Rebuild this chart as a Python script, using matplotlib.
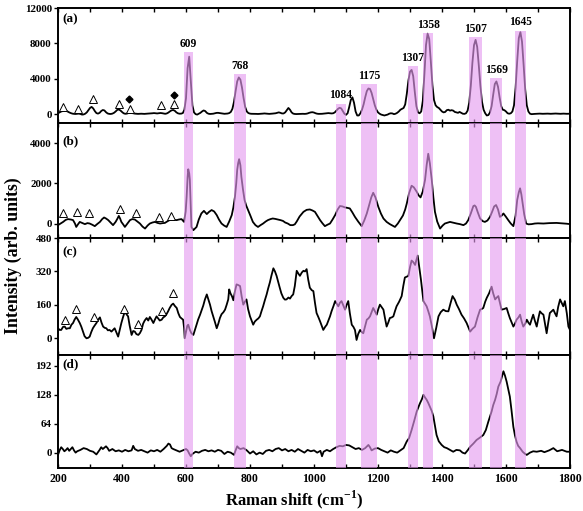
import numpy as np
import matplotlib
matplotlib.use("Agg")
import matplotlib.pyplot as plt
from matplotlib.ticker import MultipleLocator

plt.rcParams['font.family'] = ['Liberation Serif', 'DejaVu Serif']
plt.rcParams['font.weight'] = 'bold'
plt.rcParams['mathtext.fontset'] = 'custom'
plt.rcParams['mathtext.rm'] = 'Liberation Serif:bold'
plt.rcParams['mathtext.bf'] = 'Liberation Serif:bold'

# ---------------- data ----------------
# panel (a): sampled every 5 cm-1 from 200 to 1800
a_shift = np.arange(200, 1801, 5)
a_int = [
    100, 200, 300, 350, 400, 380, 300, 200, 120, 60, 30, 20, 40, 60, 20, -50, -30, 50, 200, 450,
    700, 820, 650, 350, 120, 60, 150, 350, 470, 420, 220, 80, 30, 20, 60, 150, 300, 480, 530, 420,
    250, 100, 40, 60, 120, 150, 130, 100, 60, 40, 30, 40, 50, 40, 30, 50, 60, 70, 80, 100,
    120, 100, 80, 100, 130, 110, 70, 40, 80, 180, 320, 430, 470, 380, 200, 90, 50, 60, 120, 500,
    1800, 5200, 6500, 3800, 1000, 200, 0, -50, 50, 150, 300, 420, 350, 150, 50, 20, 30, 50, 100, 140,
    150, 120, 80, 50, 40, 50, 70, 120, 250, 600, 1400, 2600, 3700, 4150, 3900, 3000, 1800, 800, 300, 120,
    60, 40, 40, 40, 30, 20, 30, 40, 60, 80, 60, 40, 30, 40, 60, 80, 100, 150, 200, 150,
    80, 80, 200, 450, 700, 500, 200, 60, 20, 10, 20, 40, 50, 40, 30, 40, 80, 150, 200, 220,
    180, 100, 50, 30, 30, 40, 60, 80, 100, 120, 100, 80, 100, 200, 400, 600, 720, 650, 350, 50,
    -80, 100, 800, 1600, 1900, 1300, 300, -150, -150, 100, 500, 1100, 1900, 2600, 2900, 2850, 2400, 1700, 1000, 500,
    200, 50, -50, -100, -150, -100, -50, 50, 100, 80, 0, 50, 150, 300, 500, 600, 700, 1100, 2300, 3800,
    4800, 5000, 4300, 2500, 900, 200, 100, 300, 1500, 4500, 7800, 9100, 8500, 6000, 3300, 1600, 1000, 800, 700, 500,
    300, 200, 250, 450, 500, 400, 450, 400, 250, 200, 150, 250, 150, 50, 30, 100, 400, 1300, 3200, 5800,
    7800, 8400, 7600, 5500, 3200, 1400, 500, 100, -150, -100, 200, 900, 2200, 3400, 3700, 3100, 1900, 900, 500, 450,
    300, 100, 50, 100, 300, 1000, 3000, 6000, 8600, 9270, 8200, 5600, 2800, 1000, 300, 50, 0, 20, 30, 40,
    50, 60, 50, 40, 50, 70, 60, 50, 40, 50, 60, 70, 60, 50, 40, 50, 60, 50, 40, 50,
    50,
]

# panel (b): (Raman shift, intensity)
b_points = [
    (200, -80), (208, 0), (216, 80), (224, 180), (231, 220), (240, 200), (247, 170), (253, 0), (257, -170), (262, -50),
    (268, 80), (275, 30), (284, -30), (292, 20), (299, 0), (307, -60), (315, -130), (323, -20), (331, 80), (338, 220),
    (344, 300), (350, 250), (357, 170), (364, 50), (372, -80), (380, 80), (386, 250), (390, 380), (394, 250), (398, 80),
    (404, -50), (409, -170), (417, 0), (425, 170), (432, 220), (440, 200), (448, 100), (456, 0), (464, -150), (472, -250),
    (480, -100), (487, 0), (495, 50), (503, 80), (511, 30), (519, 0), (527, 20), (534, 30), (543, 120), (552, 200),
    (561, 180), (571, 170), (578, 200), (586, 220), (594, 80), (599, 600), (602, 1330), (605, 2300), (607, 2700), (610, 2500),
    (612, 2170), (614, 1200), (617, -170), (623, -330), (628, -250), (633, -170), (640, 200), (648, 500), (656, 630), (665, 470),
    (672, 580), (680, 670), (688, 600), (696, 420), (703, 200), (711, 0), (719, -100), (727, -170), (735, 100), (743, 420),
    (748, 800), (753, 1330), (757, 2000), (760, 2670), (763, 3000), (766, 3200), (770, 2900), (773, 2330), (778, 1700), (783, 1170),
    (788, 900), (794, 670), (801, 400), (809, 80), (817, -80), (825, -170), (833, -80), (841, 0), (849, 100), (856, 170),
    (864, 220), (871, 250), (879, 230), (887, 200), (895, 170), (903, 130), (910, 50), (918, 0), (926, -80), (934, -80),
    (940, -40), (946, 100), (955, 350), (967, 580), (977, 680), (987, 700), (995, 650), (1003, 580), (1011, 380), (1019, 170),
    (1026, 20), (1034, -130), (1042, -60), (1050, 0), (1058, 200), (1066, 420), (1074, 700), (1081, 870), (1089, 850), (1097, 800),
    (1104, 780), (1112, 750), (1120, 550), (1128, 330), (1138, 100), (1149, -130), (1157, 150), (1165, 500), (1172, 900), (1179, 1300),
    (1185, 1530), (1192, 1300), (1201, 830), (1209, 500), (1217, 250), (1227, 80), (1237, -30), (1245, -100), (1253, -170), (1262, 0),
    (1270, 200), (1278, 400), (1285, 700), (1290, 1000), (1297, 1500), (1305, 1880), (1312, 1800), (1321, 1580), (1327, 1400), (1333, 1300),
    (1340, 1600), (1347, 2170), (1352, 2900), (1357, 3470), (1362, 3000), (1368, 2170), (1373, 1300), (1378, 580), (1385, 100), (1394, -250),
    (1402, -100), (1409, 0), (1417, 40), (1425, 80), (1435, 40), (1446, 0), (1456, -30), (1467, -80), (1475, 0), (1482, 170),
    (1490, 500), (1498, 870), (1502, 900), (1506, 830), (1512, 550), (1519, 250), (1527, 120), (1534, 80), (1542, 150), (1550, 330),
    (1557, 600), (1563, 850), (1569, 920), (1575, 700), (1581, 330), (1587, 400), (1592, 500), (1600, 330), (1607, 170), (1615, 0),
    (1623, -130), (1630, 400), (1635, 1170), (1640, 1550), (1644, 1750), (1648, 1450), (1652, 1000), (1657, 450), (1663, 0), (1670, -40),
    (1680, -30), (1690, 0), (1700, 10), (1717, 0), (1735, 20), (1758, 30), (1775, 10), (1790, -10), (1800, -30),
]

# panel (c)
c_points = [
    (200, 48), (205, 40), (210, 40), (216, 55), (221, 56), (226, 45), (232, 48), (237, 48), (242, 65), (247, 73),
    (252, 90), (257, 102), (262, 90), (268, 73), (273, 55), (278, 32), (283, 10), (289, 0), (294, 2), (299, 8),
    (304, 30), (309, 48), (314, 60), (320, 73), (326, 90), (331, 100), (336, 75), (341, 56), (346, 50), (351, 48),
    (356, 38), (361, 40), (367, 32), (372, 40), (377, 48), (382, 30), (388, 8), (393, 40), (398, 73), (403, 100),
    (409, 129), (414, 115), (419, 105), (424, 60), (430, 16), (435, 35), (440, 32), (445, 20), (451, 16), (456, 25),
    (461, 40), (466, 70), (471, 85), (477, 97), (482, 85), (487, 102), (492, 90), (498, 73), (503, 90), (508, 105),
    (513, 95), (518, 85), (524, 89), (529, 100), (534, 105), (539, 115), (544, 129), (549, 145), (555, 160), (560, 166),
    (565, 155), (571, 145), (576, 120), (581, 102), (586, 95), (591, 89), (594, 50), (596, 0), (600, 30), (604, 60),
    (607, 65), (612, 40), (617, 24), (620, 20), (623, 16), (628, 40), (633, 65), (638, 90), (644, 113), (649, 135),
    (654, 157), (659, 185), (665, 210), (670, 185), (675, 161), (680, 130), (685, 105), (690, 80), (696, 48), (701, 70),
    (706, 97), (711, 115), (717, 125), (722, 137), (727, 160), (732, 186), (735, 234), (739, 215), (744, 200), (748, 182),
    (753, 225), (758, 258), (763, 255), (769, 250), (774, 200), (779, 161), (784, 175), (789, 186), (794, 140), (800, 105),
    (805, 85), (810, 65), (815, 80), (821, 89), (826, 95), (831, 105), (836, 130), (841, 153), (846, 180), (852, 210),
    (857, 240), (862, 267), (867, 300), (873, 335), (878, 320), (883, 299), (888, 270), (893, 242), (898, 215), (904, 194),
    (909, 185), (914, 186), (920, 195), (925, 190), (930, 202), (935, 210), (940, 250), (946, 323), (951, 310), (956, 299),
    (962, 315), (967, 323), (972, 320), (977, 331), (982, 280), (987, 242), (993, 230), (998, 226), (1003, 170), (1008, 121),
    (1014, 100), (1019, 81), (1024, 60), (1029, 40), (1035, 55), (1040, 65), (1045, 85), (1050, 105), (1055, 130), (1061, 155),
    (1066, 178), (1071, 165), (1076, 153), (1081, 170), (1086, 178), (1092, 155), (1097, 137), (1102, 160), (1107, 178), (1112, 120),
    (1118, 65), (1123, 55), (1128, 40), (1131, 10), (1133, -8), (1138, 20), (1144, 40), (1149, 30), (1154, 24), (1160, 60),
    (1165, 89), (1170, 95), (1175, 105), (1180, 125), (1185, 145), (1190, 130), (1196, 113), (1201, 140), (1206, 161), (1211, 150),
    (1217, 137), (1222, 95), (1227, 56), (1232, 75), (1237, 97), (1243, 100), (1248, 105), (1253, 130), (1258, 153), (1266, 175),
    (1274, 202), (1279, 250), (1284, 291), (1290, 295), (1295, 299), (1300, 340), (1305, 372), (1310, 365), (1316, 351), (1320, 375),
    (1324, 396), (1329, 340), (1334, 283), (1338, 230), (1342, 178), (1347, 165), (1352, 153), (1357, 130), (1362, 105), (1368, 60),
    (1375, 0), (1382, 50), (1389, 105), (1396, 125), (1404, 137), (1412, 130), (1420, 129), (1427, 170), (1433, 202), (1440, 185),
    (1446, 161), (1453, 140), (1461, 113), (1469, 95), (1477, 73), (1483, 50), (1488, 32), (1495, 45), (1503, 56), (1511, 100),
    (1519, 137), (1524, 140), (1529, 145), (1535, 175), (1540, 194), (1547, 215), (1555, 247), (1560, 215), (1566, 186), (1571, 195),
    (1576, 202), (1581, 170), (1586, 137), (1594, 140), (1602, 145), (1607, 120), (1612, 97), (1618, 75), (1623, 56), (1628, 70),
    (1633, 89), (1639, 100), (1644, 113), (1649, 80), (1654, 56), (1660, 70), (1665, 89), (1670, 75), (1675, 65), (1680, 90),
    (1685, 113), (1690, 85), (1696, 56), (1701, 95), (1706, 129), (1711, 120), (1717, 113), (1722, 70), (1727, 24), (1732, 75),
    (1737, 121), (1743, 130), (1748, 137), (1753, 120), (1758, 105), (1763, 150), (1769, 186), (1774, 170), (1779, 153), (1784, 178),
    (1790, 120), (1795, 56), (1800, 40),
]

# panel (d)
d_points = [
    (200, -5), (205, 5), (210, 12), (215, 8), (220, 3), (225, 6), (230, 10), (235, 4), (240, 8), (245, 12),
    (250, 5), (255, 0), (260, 3), (270, 6), (280, 10), (290, 8), (300, 4), (310, 2), (320, -4), (330, 6),
    (335, 12), (340, 8), (350, 14), (355, 10), (360, 4), (370, 8), (380, 3), (390, 5), (400, 2), (410, 6),
    (420, 3), (430, 5), (435, 15), (440, 8), (450, 4), (460, 6), (470, 3), (480, 0), (490, 5), (500, 3),
    (510, 6), (520, 2), (530, 8), (540, 15), (545, 20), (550, 18), (555, 10), (560, 8), (570, 5), (580, 2),
    (590, 5), (600, 8), (605, 5), (610, -2), (615, -8), (620, -3), (630, 2), (640, 0), (650, 4), (660, 6),
    (670, 3), (680, 5), (690, 2), (700, 6), (710, 4), (720, -3), (730, 2), (740, 0), (750, -5), (755, 5),
    (760, 14), (765, 10), (770, 8), (780, 10), (790, 5), (800, -2), (810, 3), (820, -4), (830, 0), (840, -3),
    (850, 4), (860, 6), (870, 3), (880, 8), (890, 10), (900, 5), (910, 8), (920, 3), (930, 6), (940, 2),
    (950, 8), (960, 4), (970, 0), (980, 6), (990, 3), (1000, 5), (1010, 0), (1020, 4), (1025, -8), (1030, 2),
    (1040, 6), (1050, 3), (1060, 8), (1070, 12), (1080, 15), (1090, 14), (1100, 17), (1110, 16), (1120, 12), (1130, 8),
    (1140, 10), (1150, 6), (1160, 10), (1170, 17), (1175, 12), (1180, 5), (1190, 9), (1200, 10), (1210, 6), (1220, 3),
    (1230, 0), (1240, 5), (1250, 2), (1260, 0), (1270, 5), (1280, 10), (1290, 25), (1297, 32), (1305, 50), (1313, 70),
    (1321, 91), (1326, 100), (1331, 109), (1337, 118), (1342, 128), (1347, 122), (1352, 117), (1357, 110), (1362, 102), (1368, 92),
    (1373, 80), (1378, 60), (1383, 39), (1390, 25), (1399, 17), (1407, 12), (1415, 10), (1425, 6), (1435, 2), (1445, 6),
    (1456, 5), (1464, 0), (1472, -2), (1480, 5), (1488, 13), (1498, 20), (1508, 28), (1518, 33), (1529, 39), (1537, 50),
    (1545, 69), (1550, 80), (1555, 91), (1560, 105), (1566, 117), (1571, 130), (1576, 146), (1583, 157), (1588, 170), (1592, 180),
    (1597, 170), (1602, 157), (1607, 140), (1612, 124), (1617, 95), (1623, 57), (1628, 38), (1633, 24), (1638, 15), (1644, 10),
    (1652, 2), (1660, -3), (1665, -5), (1675, 0), (1685, 3), (1696, 2), (1710, 4), (1720, 1), (1735, 5), (1748, 10),
    (1760, 3), (1775, 6), (1790, 2), (1800, 2),
]

# highlighted bands
band_labels = ['609', '768', '1084', '1175', '1307', '1358', '1507', '1569', '1645']
band_left = [594, 750, 1068, 1147, 1295, 1342, 1484, 1550, 1628]
band_right = [622, 787, 1100, 1196, 1324, 1373, 1526, 1589, 1663]
band_top_a = [7000, 4500, 1200, 3400, 5400, 9200, 8700, 4050, 9450]

# open-triangle and diamond markers
tri_a_x = [217, 262, 308, 390, 425, 521, 562]
tri_a_y = [830, 600, 1700, 1200, 600, 1000, 1100]
dia_a_x = [422, 562]
dia_a_y = [1750, 2200]
tri_b_x = [217, 260, 298, 394, 443, 516, 553]
tri_b_y = [530, 580, 500, 700, 500, 300, 380]
tri_c_x = [221, 256, 313, 407, 449, 524, 560]
tri_c_y = [89, 142, 102, 142, 70, 132, 215]

# axis settings
ylims = [(-1000, 12000), (-720, 5000), (-80, 480), (-34, 216)]
yticks = [[0, 4000, 8000, 12000], [0, 2000, 4000], [0, 160, 320, 480], [0, 64, 128, 192]]
panel_tags = ['(a)', '(b)', '(c)', '(d)']
tag_y = [0.90, 0.84, 0.88, 0.92]

# ---------------- figure ----------------
fig = plt.figure(figsize=(5.83, 5.11), dpi=100)
left, right = 58 / 583, 570 / 583
edges = [8, 123, 238, 355, 468]
axes = []
for i in range(4):
    top = 1 - edges[i] / 511
    bot = 1 - edges[i + 1] / 511
    ax = fig.add_axes([left, bot, right - left, top - bot])
    axes.append(ax)

b_x, b_y = zip(*b_points)
c_x, c_y = zip(*c_points)
d_x, d_y = zip(*d_points)
series = [(a_shift, a_int), (b_x, b_y), (c_x, c_y), (d_x, d_y)]

band_color = '#E59AF0'
for i, ax in enumerate(axes):
    xs, ys = series[i]
    ax.plot(xs, ys, color='black', lw=1.3, zorder=2)
    ax.set_xlim(200, 1800)
    ax.set_ylim(*ylims[i])
    ax.set_yticks(yticks[i])
    ax.xaxis.set_major_locator(MultipleLocator(200))
    ax.xaxis.set_minor_locator(MultipleLocator(100))
    ax.tick_params(axis='x', which='both', direction='in', top=True, bottom=True,
                   length=3, width=1.0, labelsize=8.5)
    ax.tick_params(axis='y', direction='out', length=3, width=1.0, labelsize=7.8, pad=1.5)
    for lab in ax.get_yticklabels() + ax.get_xticklabels():
        lab.set_fontweight('bold')
    for sp in ax.spines.values():
        sp.set_linewidth(1.4)
    if i < 3:
        ax.tick_params(axis='x', labelbottom=False)
    ax.text(0.008, tag_y[i], panel_tags[i], transform=ax.transAxes, fontsize=9.5,
            fontweight='bold', va='center', ha='left')
    y0 = ylims[i][0]
    for j in range(len(band_left)):
        w = band_right[j] - band_left[j]
        topv = band_top_a[j] if i == 0 else ylims[i][1]
        ax.bar(band_left[j], topv - y0, width=w, bottom=y0, align='edge',
               color=band_color, alpha=0.62, linewidth=0, zorder=3)

# peak labels in (a)
for j, lab in enumerate(band_labels):
    cx = (band_left[j] + band_right[j]) / 2
    axes[0].annotate(lab, (cx, band_top_a[j]), xytext=(0, 1.5), textcoords='offset points',
                     ha='center', va='bottom', fontsize=8.3, fontweight='bold')

mk = dict(marker='^', ms=6, mfc='white', mec='black', mew=0.7, ls='none', zorder=4)
axes[0].plot(tri_a_x, tri_a_y, **mk)
axes[0].plot(dia_a_x, dia_a_y, marker='D', ms=3.5, color='black', ls='none', zorder=4)
axes[1].plot(tri_b_x, tri_b_y, **mk)
axes[2].plot(tri_c_x, tri_c_y, **mk)

fig.text(0.023, 0.50, 'Intensity (arb. units)', rotation=90, ha='center', va='center',
         fontsize=12.8, fontweight='bold')
fig.text(0.504, 0.022, r'Raman shift (cm$^{\mathbf{-1}}$)', ha='center', va='center',
         fontsize=12, fontweight='bold')

fig.savefig('out.png', dpi=100)
